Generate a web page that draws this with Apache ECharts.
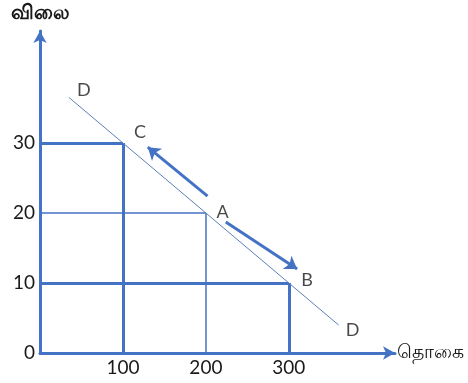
<!DOCTYPE html>
<html>
<head>
<meta charset="utf-8">
<script src="https://cdn.jsdelivr.net/npm/echarts@6/dist/echarts.min.js"></script>
<style>
  html, body { margin: 0; padding: 0; background: #fff; }
  #chart { width: 468px; height: 383px; }
</style>
</head>
<body>
<div id="chart"></div>
<script>
// quantity / price points on the demand curve (C, A, B)
const pointQty = [100, 200, 300];
const pointPrice = [30, 20, 10];
const xTickLabels = [100, 200, 300];
const yTickLabels = [0, 10, 20, 30];
// demand line DD end points
const demandLine = [[35, 36.5], [360, 4]];
// movement arrows along the curve
const arrowToC = [[202, 22.4], [130, 29.4]];
const arrowToB = [[224, 18.7], [310, 12]];
// letter annotations
const letterNames = ['D', 'C', 'A', 'B', 'D'];
const letterPos = [[53, 37.6], [120.5, 31.6], [220, 20.1], [322, 10.4], [377, 3.3]];

const blue = '#4472c4';
const textColor = '#1a1a1a';
const guideWidth = [3, 1.5, 3];

const guideData = [];
pointQty.forEach((q, i) => {
  const p = pointPrice[i];
  guideData.push({ coords: [[0, p], [q, p]], lineStyle: { width: guideWidth[i] } });
  guideData.push({ coords: [[q, p], [q, 0]], lineStyle: { width: guideWidth[i] } });
});

const chart = echarts.init(document.getElementById('chart'));
chart.setOption({
  animation: false,
  grid: { left: 40, right: 73, top: 31, bottom: 30 },
  xAxis: {
    type: 'value', min: 0, max: 428, interval: 100,
    name: 'தொகை', nameLocation: 'end', nameGap: 2,
    nameTextStyle: { color: textColor, fontSize: 19, align: 'left', verticalAlign: 'middle' },
    axisLine: { lineStyle: { color: blue, width: 3 }, symbol: ['none', 'arrow'], symbolSize: [10, 12] },
    axisTick: { show: false },
    splitLine: { show: false },
    axisLabel: {
      color: textColor, fontSize: 19, fontFamily: 'Lato', margin: 5,
      formatter: v => (xTickLabels.includes(v) ? String(v) : '')
    }
  },
  yAxis: {
    type: 'value', min: 0, max: 46, interval: 10,
    name: 'விலை', nameLocation: 'end', nameGap: 8,
    nameTextStyle: { color: textColor, fontSize: 20, fontWeight: 'bold', align: 'center' },
    axisLine: { lineStyle: { color: blue, width: 3 }, symbol: ['none', 'arrow'], symbolSize: [10, 12] },
    axisTick: { show: false },
    splitLine: { show: false },
    axisLabel: {
      color: textColor, fontSize: 19, fontFamily: 'Lato', margin: 5,
      formatter: v => (yTickLabels.includes(v) ? String(v) : '')
    }
  },
  series: [
    {
      type: 'lines', coordinateSystem: 'cartesian2d', silent: true,
      lineStyle: { color: blue, opacity: 1 },
      data: guideData
    },
    {
      type: 'line', data: demandLine, symbol: 'none', silent: true,
      lineStyle: { color: '#5a7fb8', width: 1 }
    },
    {
      type: 'lines', coordinateSystem: 'cartesian2d', silent: true,
      symbol: ['none', 'arrow'], symbolSize: 12,
      lineStyle: { color: blue, width: 3, opacity: 1 },
      data: [{ coords: arrowToC }, { coords: arrowToB }]
    },
    {
      type: 'scatter', symbolSize: 0, silent: true,
      data: letterNames.map((n, i) => ({ name: n, value: letterPos[i] })),
      label: {
        show: true, position: 'inside', formatter: '{b}',
        color: textColor, fontSize: 18, fontFamily: 'Lato'
      }
    }
  ]
});
</script>
</body>
</html>
